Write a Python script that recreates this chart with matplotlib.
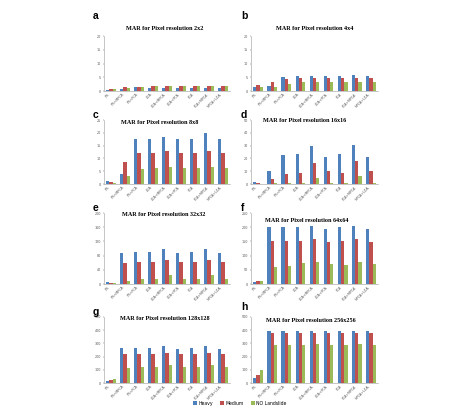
import matplotlib
matplotlib.use('Agg')
import matplotlib.pyplot as plt
import numpy as np

W, H = 475, 411

methods = ['P.S', 'P.S+MPCA', 'P.S+PCA', 'LDA', 'LDA+MPCA', 'LDA+PCA', 'PCA', 'PCA+MPCA', 'MPCA+LDA']
series_names = ['Heavy', 'Medium', 'NO Landslide']
colors = ['#4F81BD', '#C0504D', '#9BBB59']

# panel a: 2x2
a_heavy = [0.3, 0.6, 1.3, 1.2, 1.2, 1.2, 1.2, 1.2, 1.2]
a_medium = [0.6, 1.3, 1.6, 2.0, 2.0, 2.0, 2.0, 2.0, 2.0]
a_none = [0.6, 1.0, 1.5, 1.8, 1.8, 1.8, 1.8, 1.8, 1.8]
# panel b: 4x4
b_heavy = [1.3, 1.7, 5.1, 5.5, 5.6, 5.5, 5.5, 5.9, 5.5]
b_medium = [2.1, 3.2, 4.3, 4.6, 4.8, 4.6, 4.6, 4.8, 4.6]
b_none = [1.5, 1.6, 2.6, 3.2, 3.4, 3.4, 3.2, 3.4, 3.3]
# panel c: 8x8
c_heavy = [1.2, 3.8, 17.6, 17.6, 18.2, 17.6, 17.6, 20.1, 17.6]
c_medium = [0.6, 8.5, 12.0, 12.0, 12.7, 12.0, 12.0, 12.7, 12.0]
c_none = [0.4, 3.0, 5.8, 6.2, 6.6, 6.2, 6.2, 6.6, 6.2]
# panel d: 16x16
d_heavy = [1.5, 9.8, 22.3, 23.3, 29.3, 21.2, 23.3, 30.6, 21.2]
d_medium = [0.5, 4.1, 8.0, 8.5, 16.6, 9.8, 8.5, 18.1, 9.8]
d_none = [0.3, 1.0, 1.0, 1.0, 5.0, 1.0, 1.0, 6.5, 1.0]
# panel e: 32x32
e_heavy = [6, 88, 91, 91, 97.5, 88, 91, 97.5, 88]
e_medium = [3, 59, 62.5, 62.5, 69, 62.5, 62.5, 69, 62.5]
e_none = [2, 9.5, 15, 15, 26.5, 15, 15, 26.5, 15]
# panel f: 64x64
f_heavy = [7, 200, 200, 200, 203, 194, 200, 203, 194]
f_medium = [9, 151, 151, 153, 157, 149, 153, 157, 149]
f_none = [10, 61, 63, 73, 77, 71, 67, 77, 71]
# panel g: 128x128
g_heavy = [18, 265, 265, 265, 277, 260, 265, 277, 260]
g_medium = [22, 223, 223, 223, 228, 223, 223, 228, 223]
g_none = [28, 116, 121, 124, 134, 124, 124, 134, 124]
# panel h: 256x256
h_heavy = [35, 395, 395, 395, 395, 395, 395, 395, 395]
h_medium = [60, 382, 380, 380, 382, 380, 380, 382, 380]
h_none = [95, 285, 285, 290, 295, 290, 290, 295, 290]

panels = [
    ('a', 'MAR for Pixel resolution 2x2', [a_heavy, a_medium, a_none], 20, 5),
    ('b', 'MAR for Pixel resolution 4x4', [b_heavy, b_medium, b_none], 20, 5),
    ('c', 'MAR for Pixel resolution 8x8', [c_heavy, c_medium, c_none], 25, 5),
    ('d', 'MAR for Pixel resolution 16x16', [d_heavy, d_medium, d_none], 50, 10),
    ('e', 'MAR for Pixel resolution 32x32', [e_heavy, e_medium, e_none], 200, 40),
    ('f', 'MAR for Pixel resolution 64x64', [f_heavy, f_medium, f_none], 250, 50),
    ('g', 'MAR for Pixel resolution 128x128', [g_heavy, g_medium, g_none], 500, 100),
    ('h', 'MAR for Pixel resolution 256x256', [h_heavy, h_medium, h_none], 500, 100),
]

# pixel boxes: (left, right) per column, (top, bottom) per row
cols = [(104, 230), (251, 378)]
rows = [(36, 91), (120, 184), (213, 284), (317, 383)]
title_y = [28, 28, 123, 121, 214, 220, 318, 320]
title_x = [165, 315, 160, 305, 164, 307, 165, 311]
label_y = [16, 16, 115, 115, 208, 208, 312, 307]
label_x = [93, 241]

fig = plt.figure(figsize=(W / 100, H / 100), dpi=100)

x = np.arange(len(methods))
bw = 0.23
bars = []
for i, (lab, title, vals, ymax, step) in enumerate(panels):
    c = i % 2
    r = i // 2
    x0, x1 = cols[c]
    t, b = rows[r]
    ax = fig.add_axes([x0 / W, 1 - b / H, (x1 - x0) / W, (b - t) / H])
    for k in range(3):
        bb = ax.bar(x + (k - 1) * bw, vals[k], bw, color=colors[k], linewidth=0)
        if i == 0:
            bars.append(bb)
    ax.set_xlim(-0.5, len(methods) - 0.5)
    ax.set_ylim(0, ymax)
    ax.set_yticks(np.arange(0, ymax + step / 2, step))
    ax.tick_params(axis='y', labelsize=2.4, length=1, width=0.3, pad=1, colors='#555555')
    ax.set_xticks(x)
    ax.set_xticklabels(methods, rotation=45, ha='right', fontsize=2.3)
    ax.tick_params(axis='x', length=0, pad=1, colors='#555555')
    for s in ['top', 'right']:
        ax.spines[s].set_visible(False)
    for s in ['left', 'bottom']:
        ax.spines[s].set_color('#999999')
        ax.spines[s].set_linewidth(0.4)
    fig.text(title_x[i] / W, 1 - title_y[i] / H, title, ha='center', va='center',
             fontsize=4.4, fontweight='bold', family='Liberation Serif')
    fig.text(label_x[c] / W, 1 - label_y[i] / H, lab, ha='left', va='center',
             fontsize=7.5, fontweight='bold', family='Liberation Sans')

fig.legend(bars, series_names, loc='center', bbox_to_anchor=(240 / W, 1 - 403 / H),
           ncol=3, fontsize=3.3, frameon=False, handlelength=0.8, handleheight=0.8,
           columnspacing=1.5, handletextpad=0.4)

fig.savefig('out.png', dpi=100, facecolor='white')
